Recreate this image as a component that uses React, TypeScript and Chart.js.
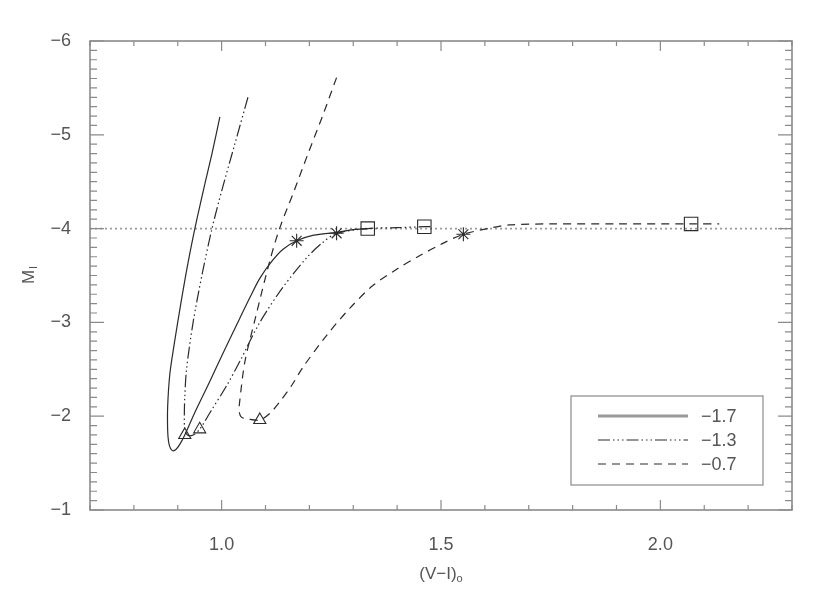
import React, { useEffect, useRef } from "react";
import { Chart, registerables } from "chart.js";

Chart.register(...registerables);

// ---------- data ----------
const SOLID_X = [0.996, 0.978, 0.963, 0.939, 0.922, 0.907, 0.893, 0.882, 0.877, 0.877, 0.879, 0.883, 0.889, 0.897, 0.906, 0.916, 0.94, 0.973, 1.008, 1.041, 1.065, 1.087, 1.116, 1.14, 1.171, 1.21, 1.262, 1.30, 1.333];
const SOLID_Y = [-5.19, -4.8, -4.5, -4.0, -3.6, -3.2, -2.8, -2.45, -2.1, -1.85, -1.73, -1.66, -1.63, -1.65, -1.71, -1.8, -2.05, -2.37, -2.72, -3.04, -3.27, -3.47, -3.66, -3.78, -3.87, -3.93, -3.96, -3.99, -4.0];

const DASHDOT_X = [1.06, 1.03, 1.0, 0.978, 0.955, 0.935, 0.92, 0.916, 0.915, 0.916, 0.922, 0.935, 0.95, 0.975, 1.012, 1.041, 1.087, 1.139, 1.194, 1.23, 1.262, 1.333, 1.40, 1.462, 1.48];
const DASHDOT_Y = [-5.40, -4.9, -4.4, -4.0, -3.5, -3.0, -2.5, -2.2, -2.0, -1.86, -1.8, -1.8, -1.86, -2.05, -2.33, -2.58, -3.0, -3.37, -3.69, -3.85, -3.95, -4.0, -4.01, -4.02, -4.02];

const DASHED_X = [1.262, 1.23, 1.197, 1.165, 1.132, 1.11, 1.075, 1.053, 1.041, 1.04, 1.045, 1.06, 1.087, 1.11, 1.132, 1.16, 1.185, 1.239, 1.292, 1.344, 1.40, 1.451, 1.503, 1.551, 1.617, 1.656, 1.75, 1.9, 2.07, 2.134];
const DASHED_Y = [-5.61, -5.2, -4.8, -4.4, -4.0, -3.66, -3.01, -2.58, -2.15, -2.05, -1.99, -1.97, -1.96, -2.03, -2.15, -2.33, -2.52, -2.86, -3.15, -3.39, -3.57, -3.71, -3.84, -3.94, -4.01, -4.04, -4.05, -4.05, -4.05, -4.05];

const TRI_X = [0.916, 0.950, 1.087];
const TRI_Y = [-1.80, -1.86, -1.96];
const STAR_X = [1.171, 1.262, 1.551];
const STAR_Y = [-3.87, -3.95, -3.94];
const SQ_X = [1.333, 1.462, 2.07];
const SQ_Y = [-4.0, -4.02, -4.05];

const REF_LEVEL = -4.0;

const SERIES_LABELS = ["\u22121.7", "\u22121.3", "\u22120.7"];
const X_TICKS = [1.0, 1.5, 2.0];
const Y_TICKS = [-6, -5, -4, -3, -2, -1];
const X_MIN = 0.7, X_MAX = 2.3, Y_MIN = -6, Y_MAX = -1;

// ---------- styles ----------
const INK = "#2a2a2a";
const TXT = "#555";
const FRAME = "#8a8a8a";
const FONT = "'Liberation Sans', Arial, sans-serif";
const DASH_DOT = [12, 3, 1.5, 3, 1.5, 3, 1.5, 3];
const DASHED = [8, 6];

const pts = (xs: number[], ys: number[]) => xs.map((x, i) => ({ x, y: ys[i] }));

const framePlugin = {
  id: "frameTicks",
  afterDraw(chart: any) {
    const { ctx, chartArea: a, scales } = chart;
    const xs = scales.x, ys = scales.y;
    ctx.save();
    // frame
    ctx.strokeStyle = FRAME;
    ctx.lineWidth = 1.6;
    ctx.strokeRect(a.left, a.top, a.right - a.left, a.bottom - a.top);
    ctx.lineWidth = 1.2;
    // x ticks
    for (let i = 0; i <= Math.round((X_MAX - X_MIN) * 10); i++) {
      const v = X_MIN + i * 0.1;
      const major = X_TICKS.some((t) => Math.abs(t - v) < 1e-6);
      const len = major ? 10 : 5;
      const px = xs.getPixelForValue(v);
      ctx.beginPath();
      ctx.moveTo(px, a.bottom); ctx.lineTo(px, a.bottom - len);
      ctx.moveTo(px, a.top); ctx.lineTo(px, a.top + len);
      ctx.stroke();
    }
    // y ticks
    for (let i = 0; i <= Math.round((Y_MAX - Y_MIN) * 10); i++) {
      const v = Y_MIN + i * 0.1;
      const major = Y_TICKS.some((t) => Math.abs(t - v) < 1e-6);
      const len = major ? 14 : 7;
      const py = ys.getPixelForValue(v);
      ctx.beginPath();
      ctx.moveTo(a.left, py); ctx.lineTo(a.left + len, py);
      ctx.moveTo(a.right, py); ctx.lineTo(a.right - len, py);
      ctx.stroke();
    }
    // axis titles
    ctx.fillStyle = TXT;
    ctx.textBaseline = "alphabetic";
    ctx.font = `17px ${FONT}`;
    const main = "(V\u2212I)";
    const wMain = ctx.measureText(main).width;
    ctx.font = `11px ${FONT}`;
    const wSub = ctx.measureText("o").width;
    const cx = (a.left + a.right) / 2;
    const baseY = 579;
    ctx.font = `17px ${FONT}`;
    ctx.textAlign = "left";
    ctx.fillText(main, cx - (wMain + wSub) / 2, baseY);
    ctx.font = `11px ${FONT}`;
    ctx.fillText("o", cx - (wMain + wSub) / 2 + wMain, baseY + 3);
    // y title "M_I"
    ctx.save();
    ctx.translate(34, (a.top + a.bottom) / 2);
    ctx.rotate(-Math.PI / 2);
    ctx.font = `17px ${FONT}`;
    const wM = ctx.measureText("M").width;
    ctx.font = `11px ${FONT}`;
    const wI = ctx.measureText("I").width;
    ctx.font = `17px ${FONT}`;
    ctx.fillText("M", -(wM + wI) / 2, 0);
    ctx.font = `11px ${FONT}`;
    ctx.fillText("I", -(wM + wI) / 2 + wM + 1, 3);
    ctx.restore();
    // legend
    const bx = 571, by = 396, bw = 192, bh = 89;
    ctx.strokeStyle = FRAME;
    ctx.lineWidth = 1.2;
    ctx.strokeRect(bx, by, bw, bh);
    const rows = [
      { color: "#9a9a9a", width: 3, dash: [] as number[] },
      { color: INK, width: 1.2, dash: DASH_DOT },
      { color: INK, width: 1.2, dash: DASHED },
    ];
    rows.forEach((r, i) => {
      const y = by + 20 + i * 24;
      ctx.beginPath();
      ctx.strokeStyle = r.color;
      ctx.lineWidth = r.width;
      ctx.setLineDash(r.dash);
      ctx.moveTo(bx + 27, y);
      ctx.lineTo(bx + 117, y);
      ctx.stroke();
      ctx.setLineDash([]);
      ctx.fillStyle = TXT;
      ctx.font = `18px ${FONT}`;
      ctx.textAlign = "left";
      ctx.textBaseline = "middle";
      ctx.fillText(SERIES_LABELS[i], bx + 130, y + 1);
    });
    ctx.restore();
  },
};

export default function App() {
  const ref = useRef<HTMLCanvasElement | null>(null);
  useEffect(() => {
    document.body.style.margin = "0";
    const canvas = ref.current!;
    const lineDs = (label: string, xs: number[], ys: number[], dash: number[]) => ({
      label,
      data: pts(xs, ys),
      showLine: true,
      borderColor: INK,
      borderWidth: 1.2,
      borderDash: dash,
      pointRadius: 0,
      tension: 0.3,
      fill: false,
    });
    const markDs = (label: string, xs: number[], ys: number[], style: string, r: number) => ({
      label,
      data: pts(xs, ys),
      showLine: false,
      pointStyle: style,
      pointRadius: r,
      pointBorderColor: INK,
      pointBackgroundColor: "rgba(0,0,0,0)",
      pointBorderWidth: 1.1,
      borderColor: INK,
      backgroundColor: "rgba(0,0,0,0)",
    });
    const chart = new Chart(canvas, {
      type: "scatter",
      data: {
        datasets: [
          markDs("tri", TRI_X, TRI_Y, "triangle", 7),
          markDs("star", STAR_X, STAR_Y, "star", 7),
          markDs("sq", SQ_X, SQ_Y, "rect", 9.5),
          lineDs(SERIES_LABELS[0], SOLID_X, SOLID_Y, []),
          lineDs(SERIES_LABELS[1], DASHDOT_X, DASHDOT_Y, DASH_DOT),
          lineDs(SERIES_LABELS[2], DASHED_X, DASHED_Y, DASHED),
          {
            label: "ref",
            data: [{ x: X_MIN, y: REF_LEVEL }, { x: X_MAX, y: REF_LEVEL }],
            showLine: true,
            borderColor: "#9a9a9a",
            borderWidth: 1.6,
            borderDash: [2, 3],
            pointRadius: 0,
          },
        ],
      },
      options: {
        responsive: false,
        animation: false,
        events: [],
        layout: { padding: { top: 41, right: 38, left: 0, bottom: 0 } },
        plugins: { legend: { display: false }, tooltip: { enabled: false } },
        scales: {
          x: {
            type: "linear",
            min: X_MIN,
            max: X_MAX,
            afterFit: (s: any) => { s.height = 83; },
            afterBuildTicks: (s: any) => { s.ticks = X_TICKS.map((v) => ({ value: v })); },
            grid: { display: false },
            border: { display: false },
            ticks: {
              padding: 16,
              color: TXT,
              font: { family: FONT, size: 18 },
              callback: (v: any) => Number(v).toFixed(1),
            },
          },
          y: {
            type: "linear",
            min: Y_MIN,
            max: Y_MAX,
            reverse: true,
            afterFit: (s: any) => { s.width = 90; },
            afterBuildTicks: (s: any) => { s.ticks = Y_TICKS.map((v) => ({ value: v })); },
            grid: { display: false },
            border: { display: false },
            ticks: {
              padding: 11,
              color: TXT,
              font: { family: FONT, size: 18 },
              callback: (v: any) => "\u2212" + Math.abs(Number(v)),
            },
          },
        },
      },
      plugins: [framePlugin],
    } as any);
    return () => chart.destroy();
  }, []);
  return (
    <div style={{ width: 830, height: 593 }}>
      <canvas ref={ref} width={830} height={593} />
    </div>
  );
}
